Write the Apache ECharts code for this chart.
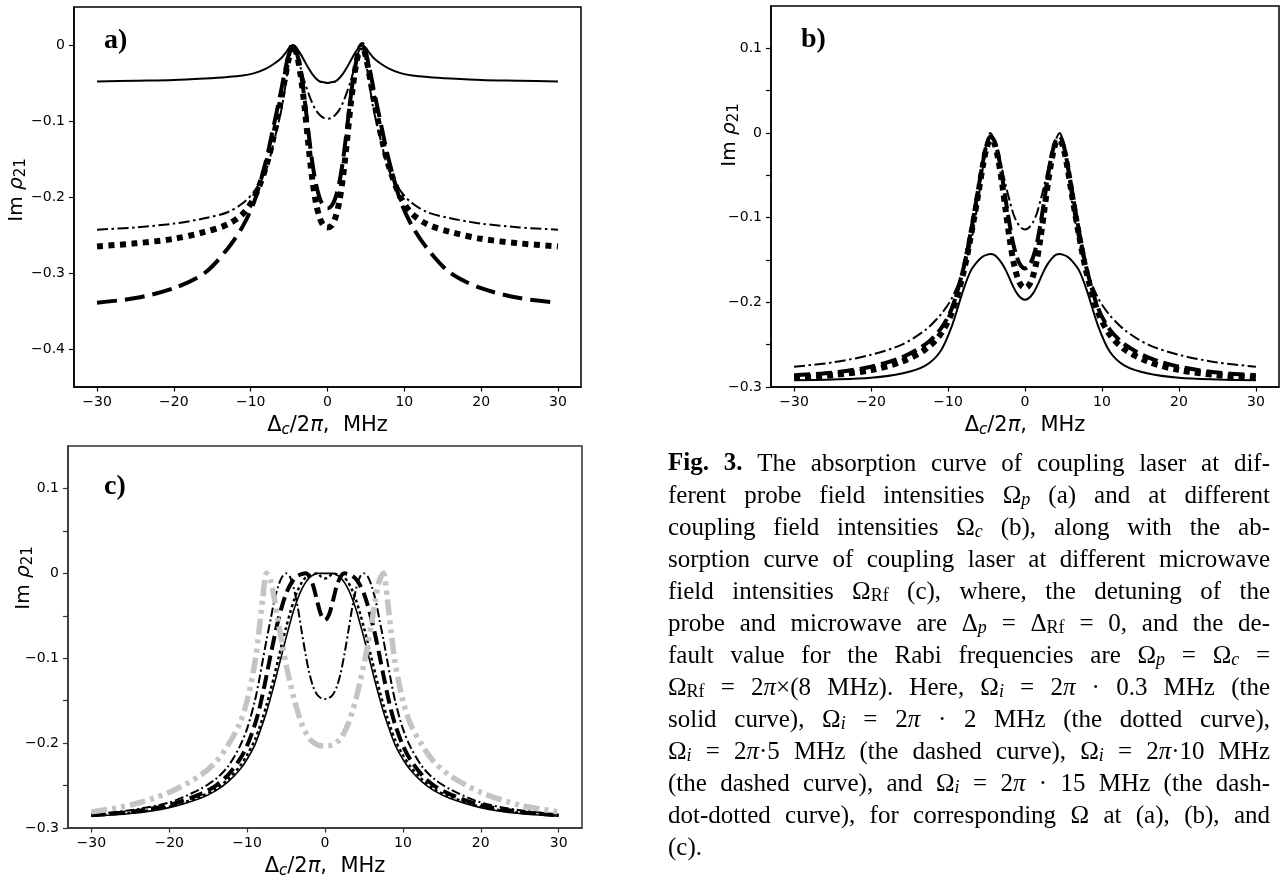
<!DOCTYPE html>
<html>
<head>
<meta charset="utf-8">
<script src="https://cdn.jsdelivr.net/npm/echarts@6/dist/echarts.min.js"></script>
<style>
  html, body { margin: 0; padding: 0; background: #fff; }
  #main { width: 1280px; height: 879px; }
</style>
</head>
<body>
<div id="main"></div>
<script>
// ---- data ----
var xTicks = [-30, -20, -10, 0, 10, 20, 30];
var aYTicks = [-0.4, -0.3, -0.2, -0.1, 0];
var bcYTicks = [-0.3, -0.25, -0.2, -0.15, -0.1, -0.05, 0, 0.05, 0.1];
var bcYLabels = [-0.3, -0.2, -0.1, 0, 0.1];

// panels a) and b) share the detuning samples
var abX = [-30, -25, -20, -16, -13, -11, -9.5, -8, -7, -6, -5.5, -5, -4.5, -4, -3.5, -3, -2.5, -2, -1.5, -1, -0.5, 0,
  0.5, 1, 1.5, 2, 2.5, 3, 3.5, 4, 4.5, 5, 5.5, 6, 7, 8, 9.5, 11, 13, 16, 20, 25, 30];

var aSolid = [-0.048, -0.047, -0.046, -0.044, -0.042, -0.040, -0.037, -0.031, -0.025, -0.017, -0.011, -0.004, 0, -0.004, -0.012, -0.021, -0.030, -0.038, -0.044, -0.048, -0.049, -0.050,
  -0.049, -0.048, -0.044, -0.038, -0.030, -0.021, -0.012, -0.004, 0, -0.004, -0.011, -0.017, -0.025, -0.031, -0.037, -0.040, -0.042, -0.044, -0.046, -0.047, -0.048];
var aDashDot = [-0.243, -0.240, -0.235, -0.228, -0.220, -0.208, -0.192, -0.165, -0.128, -0.085, -0.055, -0.022, 0, -0.010, -0.030, -0.048, -0.063, -0.076, -0.086, -0.092, -0.096, -0.097,
  -0.096, -0.092, -0.086, -0.076, -0.063, -0.048, -0.030, -0.010, 0, -0.022, -0.055, -0.085, -0.128, -0.165, -0.192, -0.208, -0.220, -0.228, -0.235, -0.240, -0.243];
var aDotted = [-0.265, -0.261, -0.255, -0.246, -0.236, -0.222, -0.200, -0.160, -0.120, -0.070, -0.042, -0.016, 0, -0.012, -0.040, -0.080, -0.130, -0.175, -0.208, -0.228, -0.238, -0.240,
  -0.238, -0.228, -0.208, -0.175, -0.130, -0.080, -0.040, -0.012, 0, -0.016, -0.042, -0.070, -0.120, -0.160, -0.200, -0.222, -0.236, -0.246, -0.255, -0.261, -0.265];
var aDashed = [-0.339, -0.333, -0.320, -0.300, -0.268, -0.238, -0.205, -0.152, -0.106, -0.058, -0.032, -0.011, 0, -0.010, -0.035, -0.070, -0.113, -0.153, -0.183, -0.202, -0.212, -0.215,
  -0.212, -0.202, -0.183, -0.153, -0.113, -0.070, -0.035, -0.010, 0, -0.011, -0.032, -0.058, -0.106, -0.152, -0.205, -0.238, -0.268, -0.300, -0.320, -0.333, -0.339];

var bSolid = [-0.292, -0.291, -0.289, -0.284, -0.275, -0.258, -0.228, -0.185, -0.162, -0.150, -0.146, -0.144, -0.143, -0.144, -0.148, -0.154, -0.162, -0.172, -0.182, -0.190, -0.195, -0.197,
  -0.195, -0.190, -0.182, -0.172, -0.162, -0.154, -0.148, -0.144, -0.143, -0.144, -0.146, -0.150, -0.162, -0.185, -0.228, -0.258, -0.275, -0.284, -0.289, -0.291, -0.292];
var bDashDot = [-0.276, -0.271, -0.262, -0.250, -0.233, -0.215, -0.195, -0.162, -0.128, -0.075, -0.042, -0.012, 0, -0.008, -0.022, -0.042, -0.062, -0.080, -0.096, -0.106, -0.112, -0.114,
  -0.112, -0.106, -0.096, -0.080, -0.062, -0.042, -0.022, -0.008, 0, -0.012, -0.042, -0.075, -0.128, -0.162, -0.195, -0.215, -0.233, -0.250, -0.262, -0.271, -0.276];
var bDotted = [-0.289, -0.286, -0.280, -0.270, -0.256, -0.238, -0.212, -0.165, -0.120, -0.068, -0.040, -0.018, -0.008, -0.012, -0.030, -0.058, -0.092, -0.125, -0.152, -0.170, -0.180, -0.183,
  -0.180, -0.170, -0.152, -0.125, -0.092, -0.058, -0.030, -0.012, -0.008, -0.018, -0.040, -0.068, -0.120, -0.165, -0.212, -0.238, -0.256, -0.270, -0.280, -0.286, -0.289];
var bDashed = [-0.286, -0.283, -0.276, -0.265, -0.250, -0.232, -0.207, -0.160, -0.115, -0.062, -0.036, -0.014, -0.004, -0.009, -0.025, -0.050, -0.080, -0.108, -0.132, -0.148, -0.157, -0.160,
  -0.157, -0.148, -0.132, -0.108, -0.080, -0.050, -0.025, -0.009, -0.004, -0.014, -0.036, -0.062, -0.115, -0.160, -0.207, -0.232, -0.250, -0.265, -0.276, -0.283, -0.286];

// panel c)
var cX = [-30, -25, -20, -16, -14, -12.5, -11, -10, -9, -8.5, -8, -7.5, -7, -6.5, -6, -5.5, -5, -4.5, -4, -3.5, -3, -2.5, -2, -1.5, -1, -0.5, 0,
  0.5, 1, 1.5, 2, 2.5, 3, 3.5, 4, 4.5, 5, 5.5, 6, 6.5, 7, 7.5, 8, 8.5, 9, 10, 11, 12.5, 14, 16, 20, 25, 30];

var cSolid = [-0.286, -0.283, -0.276, -0.265, -0.256, -0.246, -0.232, -0.219, -0.202, -0.190, -0.177, -0.163, -0.147, -0.130, -0.112, -0.094, -0.076, -0.059, -0.043, -0.030, -0.019, -0.011, -0.005, -0.002, 0, 0, 0,
  0, 0, -0.002, -0.005, -0.011, -0.019, -0.030, -0.043, -0.059, -0.076, -0.094, -0.112, -0.130, -0.147, -0.163, -0.177, -0.190, -0.202, -0.219, -0.232, -0.246, -0.256, -0.265, -0.276, -0.283, -0.286];
var cDotted = [-0.285, -0.282, -0.275, -0.263, -0.254, -0.243, -0.228, -0.214, -0.196, -0.184, -0.170, -0.155, -0.138, -0.120, -0.101, -0.082, -0.064, -0.047, -0.032, -0.020, -0.011, -0.005, -0.002, -0.001, 0, -0.004, -0.006,
  -0.004, 0, -0.001, -0.002, -0.005, -0.011, -0.020, -0.032, -0.047, -0.064, -0.082, -0.101, -0.120, -0.138, -0.155, -0.170, -0.184, -0.196, -0.214, -0.228, -0.243, -0.254, -0.263, -0.275, -0.282, -0.285];
var cDashed = [-0.285, -0.281, -0.273, -0.260, -0.250, -0.238, -0.220, -0.203, -0.178, -0.162, -0.142, -0.120, -0.097, -0.075, -0.055, -0.038, -0.024, -0.014, -0.007, -0.003, -0.001, 0, -0.004, -0.015, -0.033, -0.049, -0.055,
  -0.049, -0.033, -0.015, -0.004, 0, -0.001, -0.003, -0.007, -0.014, -0.024, -0.038, -0.055, -0.075, -0.097, -0.120, -0.142, -0.162, -0.178, -0.203, -0.220, -0.238, -0.250, -0.260, -0.273, -0.281, -0.285];
var cDashDot = [-0.284, -0.279, -0.270, -0.254, -0.242, -0.228, -0.205, -0.183, -0.150, -0.128, -0.103, -0.078, -0.055, -0.032, -0.015, -0.004, 0, -0.004, -0.018, -0.040, -0.068, -0.095, -0.118, -0.134, -0.143, -0.147, -0.148,
  -0.147, -0.143, -0.134, -0.118, -0.095, -0.068, -0.040, -0.018, -0.004, 0, -0.004, -0.015, -0.032, -0.055, -0.078, -0.103, -0.128, -0.150, -0.183, -0.205, -0.228, -0.242, -0.254, -0.270, -0.279, -0.284];
var cGray = [-0.281, -0.273, -0.258, -0.238, -0.222, -0.203, -0.178, -0.150, -0.105, -0.070, -0.030, 0, -0.008, -0.030, -0.058, -0.083, -0.107, -0.128, -0.147, -0.163, -0.177, -0.187, -0.195, -0.199, -0.202, -0.203, -0.203,
  -0.203, -0.202, -0.199, -0.195, -0.187, -0.177, -0.163, -0.147, -0.128, -0.107, -0.083, -0.058, -0.030, -0.008, 0, -0.030, -0.070, -0.105, -0.150, -0.178, -0.203, -0.222, -0.238, -0.258, -0.273, -0.281];

var captionLines = [
  '{b|Fig.} {b|3.} The absorption curve of coupling laser at dif-',
  'ferent probe field intensities Ω{si|p} (a) and at different',
  'coupling field intensities Ω{si|c} (b), along with the ab-',
  'sorption curve of coupling laser at different microwave',
  'field intensities Ω{s|Rf} (c), where, the detuning of the',
  'probe and microwave are Δ{si|p} = Δ{s|Rf} = 0, and the de-',
  'fault value for the Rabi frequencies are Ω{si|p} = Ω{si|c} =',
  'Ω{s|Rf} = 2{i|π}×(8 MHz). Here, Ω{si|i} = 2{i|π} · 0.3 MHz (the',
  'solid curve), Ω{si|i} = 2{i|π} · 2 MHz (the dotted curve),',
  'Ω{si|i} = 2{i|π}·5 MHz (the dashed curve), Ω{si|i} = 2{i|π}·10 MHz',
  '(the dashed curve), and Ω{si|i} = 2{i|π} · 15 MHz (the dash-',
  'dot-dotted curve), for corresponding Ω at (a), (b), and',
  '(c).'
];

// ---- helpers ----
function zip(xs, ys) {
  return xs.map(function (x, i) { return [x, ys[i]]; });
}
function minus(v) {
  return v < 0 ? '\u2212' + Math.abs(v) : String(v);
}
function yFmt(v) {
  if (Math.abs(v) < 1e-9) return '0';
  return (v < 0 ? '\u2212' : '') + Math.abs(v).toFixed(1);
}

var sans = 'DejaVu Sans';
var serif = 'Liberation Serif';
var axisNameRich = {
  si: { fontSize: 15, fontStyle: 'italic', fontFamily: sans, color: '#000', padding: [9, 0, 0, 0] },
  i: { fontSize: 21, fontStyle: 'italic', fontFamily: sans, color: '#000' }
};

function makeGrid(left, top, width, height, col) {
  return {
    left: left, top: top, width: width, height: height,
    show: true, borderColor: col, borderWidth: 1.5, backgroundColor: 'transparent',
    containLabel: false, outerBoundsMode: 'none'
  };
}
function makeX(idx, col) {
  return {
    gridIndex: idx, type: 'value', min: -33, max: 33,
    splitLine: { show: false },
    axisLine: { onZero: false, lineStyle: { color: col, width: 1.5 } },
    axisTick: { customValues: xTicks, length: 4.5, lineStyle: { color: col, width: 1.2 } },
    axisLabel: { customValues: xTicks, formatter: minus, color: '#000', fontSize: 14, fontFamily: sans, margin: 8 },
    name: 'Δ{si|c}/2{i|π},  MHz', nameLocation: 'middle', nameGap: 27,
    nameTextStyle: { fontSize: 21, fontFamily: sans, color: '#000', rich: axisNameRich }
  };
}
function makeY(idx, min, max, ticks, labels, col) {
  return {
    gridIndex: idx, type: 'value', min: min, max: max,
    splitLine: { show: false },
    axisLine: { onZero: false, lineStyle: { color: col, width: 1.5 } },
    axisTick: { customValues: ticks, length: 5, lineStyle: { color: col, width: 1.2 } },
    axisLabel: { customValues: labels, formatter: yFmt, color: '#000', fontSize: 14, fontFamily: sans, margin: 9 }
  };
}
function line(name, idx, xs, ys, color, width, dash) {
  return {
    name: name, type: 'line', xAxisIndex: idx, yAxisIndex: idx,
    data: zip(xs, ys), showSymbol: false, symbol: 'none', smooth: 0.3, silent: true,
    lineStyle: { color: color, width: width, type: dash, cap: 'butt', join: 'round' }
  };
}

// ---- caption layout (justified like the typeset text) ----
var capLeft = 668, capRight = 1270, capTop = 464, capStep = 32, capSize = 25, subSize = 18;
var capRich = {
  b: { fontSize: capSize, fontWeight: 'bold', fontFamily: serif, fill: '#000', color: '#000' },
  i: { fontSize: capSize, fontStyle: 'italic', fontFamily: serif, fill: '#000', color: '#000' },
  si: { fontSize: subSize, fontStyle: 'italic', fontFamily: serif, fill: '#000', color: '#000', padding: [9, 0, 0, 0] },
  s: { fontSize: subSize, fontFamily: serif, fill: '#000', color: '#000', padding: [9, 0, 0, 0] }
};
var capFonts = {
  base: capSize + 'px "' + serif + '"',
  b: 'bold ' + capSize + 'px "' + serif + '"',
  i: 'italic ' + capSize + 'px "' + serif + '"',
  si: 'italic ' + subSize + 'px "' + serif + '"',
  s: subSize + 'px "' + serif + '"'
};
var ctx = document.createElement('canvas').getContext('2d');
function wordWidth(w) {
  var re = /\{(\w+)\|([^}]*)\}|([^{]+)/g, m, sum = 0;
  while ((m = re.exec(w))) {
    ctx.font = capFonts[m[1] || 'base'];
    sum += ctx.measureText(m[1] ? m[2] : m[3]).width;
  }
  return sum;
}

var graphics = [];
captionLines.forEach(function (txt, li) {
  var words = txt.split(' ');
  var widths = words.map(wordWidth);
  var total = widths.reduce(function (a, b) { return a + b; }, 0);
  var isLast = li === captionLines.length - 1;
  var gap = isLast ? 6 : (capRight - capLeft - total) / (words.length - 1);
  var x = capLeft;
  words.forEach(function (w, wi) {
    graphics.push({
      type: 'text', x: x, y: capTop + li * capStep, silent: true,
      style: {
        text: w, fontSize: capSize, fontFamily: serif, fill: '#000',
        rich: capRich, verticalAlign: 'middle', textVerticalAlign: 'middle'
      }
    });
    x += widths[wi] + gap;
  });
});

// panel letters
[['a)', 104, 41], ['b)', 801, 40], ['c)', 104, 487]].forEach(function (p) {
  graphics.push({
    type: 'text', x: p[1], y: p[2], silent: true,
    style: { text: p[0], fontSize: 28, fontWeight: 'bold', fontFamily: serif, fill: '#000',
      verticalAlign: 'middle', textVerticalAlign: 'middle' }
  });
});

// y-axis titles
var yTitleRich = {
  i: { fontSize: 20, fontStyle: 'italic', fontFamily: sans, fill: '#000', color: '#000' },
  s: { fontSize: 15, fontFamily: sans, fill: '#000', color: '#000', padding: [8, 0, 0, 0] }
};
[[17, 190], [730, 135], [24, 578]].forEach(function (p) {
  graphics.push({
    type: 'text', x: p[0], y: p[1], rotation: Math.PI / 2, silent: true,
    style: { text: 'Im {i|ρ}{s|21}', fontSize: 20, fontFamily: sans, fill: '#000', rich: yTitleRich,
      align: 'center', textAlign: 'center', verticalAlign: 'middle', textVerticalAlign: 'middle' }
  });
});

var chart = echarts.init(document.getElementById('main'), null, { renderer: 'canvas' });
chart.setOption({
  animation: false,
  backgroundColor: '#fff',
  grid: [
    makeGrid(74, 7, 507, 380, '#000'),
    makeGrid(771, 6, 508, 381, '#000'),
    makeGrid(68, 446, 514, 382, '#333')
  ],
  xAxis: [makeX(0, '#000'), makeX(1, '#000'), makeX(2, '#333')],
  yAxis: [
    makeY(0, -0.45, 0.05, aYTicks, aYTicks, '#000'),
    makeY(1, -0.3, 0.15, bcYTicks, bcYLabels, '#000'),
    makeY(2, -0.3, 0.15, bcYTicks, bcYLabels, '#333')
  ],
  series: [
    line('a dashed', 0, abX, aDashed, '#000', 4, [20, 8]),
    line('a dotted', 0, abX, aDotted, '#000', 6, [6, 5.5]),
    line('a dash-dot', 0, abX, aDashDot, '#000', 2, [11, 3.5, 2.5, 3.5]),
    line('a solid', 0, abX, aSolid, '#000', 2, 'solid'),

    line('b solid', 1, abX, bSolid, '#000', 2, 'solid'),
    line('b dashed', 1, abX, bDashed, '#000', 4, [16, 6]),
    line('b dotted', 1, abX, bDotted, '#000', 6, [6, 5]),
    line('b dash-dot', 1, abX, bDashDot, '#000', 2, [11, 3.5, 2.5, 3.5]),

    line('c solid', 2, cX, cSolid, '#000', 1.6, 'solid'),
    line('c dotted', 2, cX, cDotted, '#000', 2.5, [3, 3]),
    line('c dashed', 2, cX, cDashed, '#000', 4, [14, 6]),
    line('c dash-dot', 2, cX, cDashDot, '#000', 2, [9, 3, 2, 3]),
    line('c dash-dot-dot', 2, cX, cGray, '#c4c4c4', 5.5, [16, 5, 4, 5, 4, 5])
  ],
  graphic: graphics
});
</script>
</body>
</html>
